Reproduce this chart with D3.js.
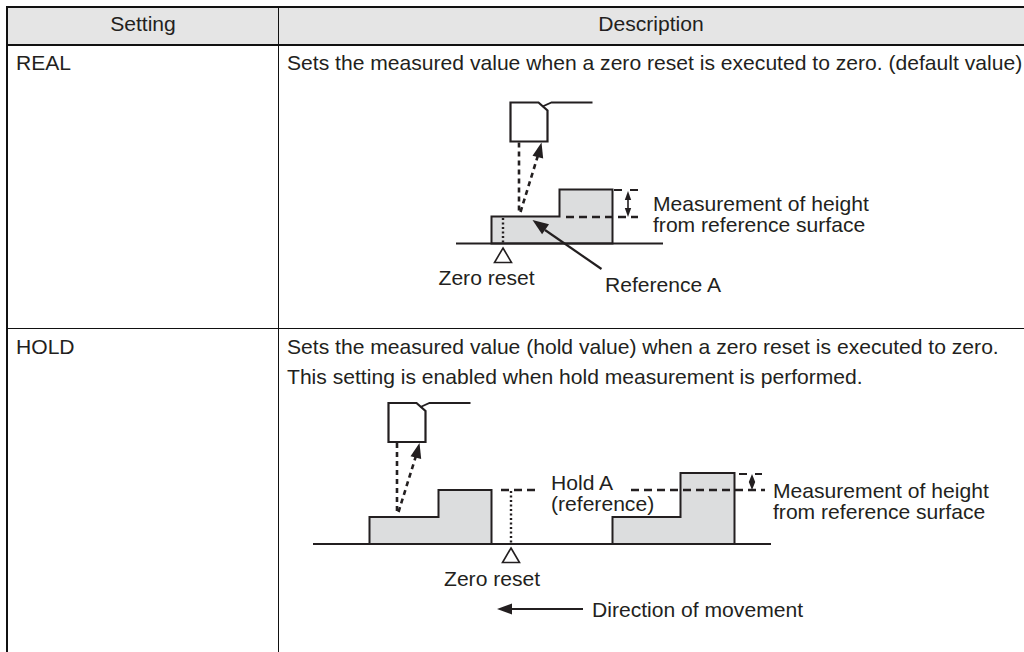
<!DOCTYPE html>
<html>
<head>
<meta charset="utf-8">
<script src="https://cdn.jsdelivr.net/npm/d3@7"></script>
<style>
html, body { margin: 0; padding: 0; background: #fff; }
svg { display: block; }
text { font-family: "Liberation Sans", Arial, sans-serif; font-size: 21.1px; fill: #231f20; }
</style>
</head>
<body>
<div id="chart"></div>
<script>
var headers = ['Setting', 'Description'];
var settings = ['REAL', 'HOLD'];
var realLines = ['Sets the measured value when a zero reset is executed to zero. (default value)'];
var holdLines = ['Sets the measured value (hold value) when a zero reset is executed to zero.',
  'This setting is enabled when hold measurement is performed.'];
var heightLabel = ['Measurement of height', 'from reference surface'];
var holdLabel = ['Hold A', '(reference)'];
var zeroLabel = 'Zero reset';
var referenceLabel = 'Reference A';
var directionLabel = 'Direction of movement';

// workpiece outlines: run along the base, height above the base
var realPiece = [[0, 0], [0, 27], [68, 27], [68, 54], [121, 54], [121, 0]];
var holdPieceA = [[0, 0], [0, 27], [69, 27], [69, 54], [122, 54], [122, 0]];
var holdPieceB = [[0, 0], [0, 27], [68, 27], [68, 71], [122, 71], [122, 0]];
// sensor head, from its top left corner, y going down
var sensorBody = [[0, 0], [28, 0], [37, 8], [37, 39], [0, 39], [0, 0]];
var sensorCable = [[32, 4], [41, 0], [82, 0]];

var width = 1024, height = 652;
var ink = '#231f20', grey = '#dcddde', headFill = '#e5e5e5';

var svg = d3.select('#chart').append('svg').attr('width', width).attr('height', height);

// table
svg.append('rect').attr('x', 7).attr('y', 7).attr('width', width - 7).attr('height', 38).attr('fill', headFill);
function rule(x1, y1, x2, y2, w) {
  svg.append('line').attr('x1', x1).attr('y1', y1).attr('x2', x2).attr('y2', y2)
    .attr('stroke', '#111').attr('stroke-width', w);
}
rule(6, 7, width, 7, 2);
rule(6, 45, width, 45, 2);
rule(7, 6, 7, height, 2);
rule(278.5, 7, 278.5, height, 1);
rule(7, 328.5, width, 328.5, 1);

function label(x, y, s, anchor) {
  svg.append('text').attr('x', x).attr('y', y).attr('text-anchor', anchor || 'start').text(s);
}
// two line labels sit close together, so keep them in one text
function block(x, y, lines, step) {
  var t = svg.append('text').attr('x', x).attr('y', y);
  t.selectAll('tspan').data(lines).enter().append('tspan')
    .attr('x', x).attr('y', function(d, i) { return y + i * step; }).text(function(d) { return d; });
}
label(143, 31, headers[0], 'middle');
label(651, 31, headers[1], 'middle');
label(16, 70, settings[0]);
label(16, 354, settings[1]);
realLines.forEach(function(s, i) { label(287, 70 + i * 30, s); });
holdLines.forEach(function(s, i) { label(287, 354 + i * 30, s); });

// diagram helpers, each works from its own scales
function scales(ox, oy, flip) {
  return {
    x: d3.scaleLinear().domain([0, 100]).range([ox, ox + 100]),
    y: d3.scaleLinear().domain([0, 100]).range([oy, flip ? oy - 100 : oy + 100])
  };
}
function pathOf(s) {
  return d3.line().x(function(d) { return s.x(d[0]); }).y(function(d) { return s.y(d[1]); });
}
var whole = scales(0, 0, false);
function seg(a, b, w, dash) {
  return svg.append('path').attr('d', pathOf(whole)([a, b])).attr('fill', 'none')
    .attr('stroke', ink).attr('stroke-width', w).attr('stroke-dasharray', dash || null);
}
function head(tip, from, len, half) {
  var dx = from[0] - tip[0], dy = from[1] - tip[1], n = Math.sqrt(dx * dx + dy * dy);
  dx /= n; dy /= n;
  var bx = tip[0] + dx * len, by = tip[1] + dy * len;
  svg.append('path').attr('d', pathOf(whole)([tip, [bx - dy * half, by + dx * half], [bx + dy * half, by - dx * half]]) + 'Z')
    .attr('fill', ink);
}
function piece(shape, ox, base) {
  var s = scales(ox, base, true);
  svg.append('path').attr('d', pathOf(s)(shape) + 'Z').attr('fill', grey).attr('stroke', ink).attr('stroke-width', 2);
}
function sensor(ox, oy, beamTo) {
  var s = scales(ox, oy, false);
  svg.append('path').attr('d', pathOf(s)(sensorBody) + 'Z').attr('fill', '#fff').attr('stroke', ink).attr('stroke-width', 2.2);
  svg.append('path').attr('d', pathOf(s)(sensorCable)).attr('fill', 'none').attr('stroke', ink).attr('stroke-width', 1.8);
  seg([ox + 8.5, oy + 40], [ox + 8.5, beamTo], 2.6, '5 4');
  seg([ox + 10, beamTo], [ox + 29, oy + 48], 2.6, '5 4');
  head([ox + 31, oy + 40], [ox + 28, oy + 52], 15, 5.5);
}
function trigger(x, yTop) {
  svg.append('path').attr('d', pathOf(whole)([[x, yTop], [x + 8.5, yTop + 14.5], [x - 8.5, yTop + 14.5]]) + 'Z')
    .attr('fill', '#fff').attr('stroke', ink).attr('stroke-width', 1.6);
}
function gauge(x, y1, y2) {
  seg([x, y1 + 4], [x, y2 - 4], 1.6);
  head([x, y1], [x, y2], Math.min(9, (y2 - y1) / 2), 3.2);
  head([x, y2], [x, y1], Math.min(9, (y2 - y1) / 2), 3.2);
}

// REAL diagram
sensor(510.5, 102.5, 212);
piece(realPiece, 491.5, 243.5);
seg([456, 243.5], [663, 243.5], 2);
seg([503, 218], [503, 243], 2.4, '2 2.5');
seg([566, 217], [638, 217], 2.4, '8 5');
seg([614, 190], [638, 190], 2.2, '8 8');
gauge(628, 191, 217);
seg([601.5, 269], [545, 230], 2.2);
head([532.5, 220], [601.5, 269], 16, 6);
trigger(503, 248);
label(438.5, 285, zeroLabel);
label(605, 292, referenceLabel);
block(653, 211, heightLabel, 21);

// HOLD diagram
sensor(388.5, 403, 512);
piece(holdPieceA, 369.5, 544);
piece(holdPieceB, 612.5, 544);
seg([313, 544], [771, 544], 2);
seg([511, 491], [511, 544], 2.4, '2 2.5');
seg([501, 490], [537, 490], 2.4, '8 5');
seg([631, 490], [765, 490], 2.4, '8 5');
seg([739, 474], [762, 474], 2.2, '8 8');
gauge(752, 474, 490);
trigger(511, 548);
label(444, 586, zeroLabel);
block(551, 490, holdLabel, 21);
block(773, 498, heightLabel, 21);
seg([510, 609], [583, 609], 2.2);
head([497, 609], [583, 609], 15, 5.5);
label(592, 617, directionLabel);
</script>
</body>
</html>
